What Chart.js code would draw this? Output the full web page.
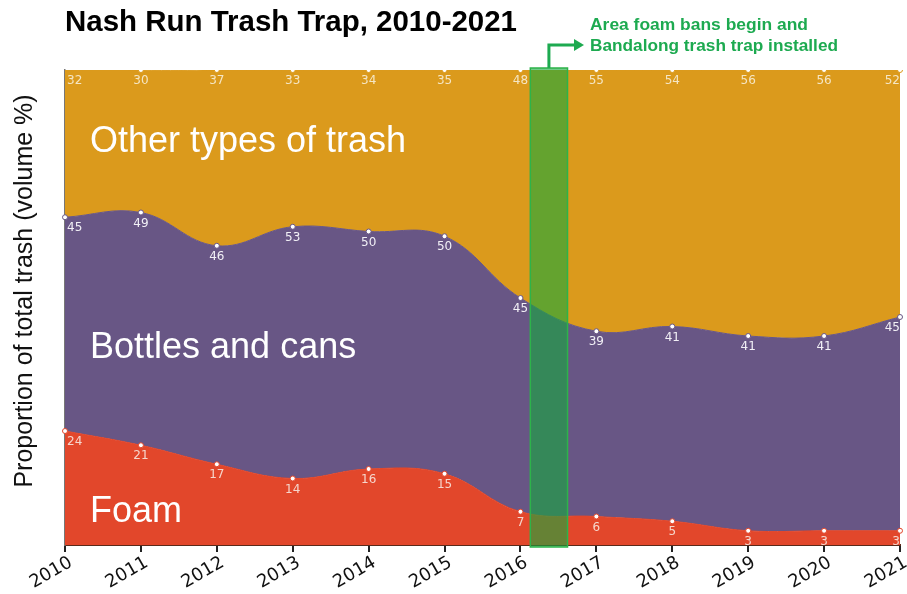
<!DOCTYPE html>
<html>
<head>
<meta charset="utf-8">
<script src="https://cdn.jsdelivr.net/npm/chart.js@4.4.1/dist/chart.umd.min.js"></script>
<style>
  html, body { margin: 0; padding: 0; background: #fff; }
  #wrap { width: 907px; height: 594px; }
</style>
</head>
<body>
<div id="wrap"><canvas id="trash"></canvas></div>
<script>
var years = ['2010', '2011', '2012', '2013', '2014', '2015', '2016', '2017', '2018', '2019', '2020', '2021'];
var foam = [24, 21, 17, 14, 16, 15, 7, 6, 5, 3, 3, 3];
var bottles = [45, 49, 46, 53, 50, 50, 45, 39, 41, 41, 41, 45];
var other = [32, 30, 37, 33, 34, 35, 48, 55, 54, 56, 56, 52];

var colors = {
    foam: '#E2472B',
    bottles: '#685685',
    other: '#DB9A1C',
    green: '#1DAA50'
};

function area(label, values, color, fill, labelColor) {
    return {
        label: label,
        data: values,
        backgroundColor: color,
        borderColor: color,
        borderWidth: 1,
        fill: fill,
        tension: 0.4,
        pointRadius: 2.5,
        pointBackgroundColor: '#fff',
        pointBorderColor: color,
        pointBorderWidth: 1,
        labelColor: labelColor
    };
}

// narrow bold text: squeeze a normal face to the wanted width
function narrowText(ctx, text, x, y, width) {
    var w = ctx.measureText(text).width;
    ctx.save();
    ctx.translate(x, y);
    ctx.scale(width / w, 1);
    ctx.fillText(text, 0, 0);
    ctx.restore();
}

// value labels under every point
var valueLabels = {
    id: 'valueLabels',
    afterDatasetsDraw: function(chart) {
        var ctx = chart.ctx;
        ctx.save();
        ctx.font = '12px "DejaVu Sans"';
        ctx.textBaseline = 'top';
        chart.data.datasets.forEach(function(ds, i) {
            var meta = chart.getDatasetMeta(i);
            meta.data.forEach(function(pt, j) {
                ctx.fillStyle = ds.labelColor;
                ctx.textAlign = j === 0 ? 'left' : (j === ds.data.length - 1 ? 'right' : 'center');
                var y = Math.max(pt.y, chart.chartArea.top);
                ctx.fillText(String(ds.data[j]), pt.x + (j === 0 ? 2 : 0), y + 5);
            });
        });
        ctx.restore();
    }
};

// big category names, titles, and the 2016 highlight box
var decorations = {
    id: 'decorations',
    afterDraw: function(chart) {
        var ctx = chart.ctx;
        var area = chart.chartArea;
        var x = chart.scales.x;
        ctx.save();

        ctx.fillStyle = '#fff';
        ctx.textAlign = 'left';
        ctx.textBaseline = 'alphabetic';
        ctx.font = '36px "Liberation Sans"';
        ctx.fillText('Other types of trash', 90, 152);
        ctx.fillText('Bottles and cans', 90, 358);
        ctx.fillText('Foam', 90, 522);

        ctx.fillStyle = '#000';
        ctx.font = 'bold 30px "Liberation Sans"';
        narrowText(ctx, 'Nash Run Trash Trap, 2010-2021', 65, 31, 452);

        // y axis title
        ctx.save();
        ctx.translate(25, 291);
        ctx.rotate(-Math.PI / 2);
        ctx.textAlign = 'center';
        ctx.textBaseline = 'middle';
        ctx.fillStyle = '#111';
        ctx.font = '25px "Liberation Sans"';
        ctx.fillText('Proportion of total trash (volume %)', 0, 0);
        ctx.restore();

        var x0 = x.getPixelForValue(6.13);
        var x1 = x.getPixelForValue(6.62);
        ctx.fillStyle = 'rgba(20, 170, 60, 0.6)';
        ctx.fillRect(x0, area.top - 2, x1 - x0, area.bottom - area.top + 4);
        ctx.strokeStyle = '#2DB34A';
        ctx.lineWidth = 1.5;
        ctx.strokeRect(x0, area.top - 2, x1 - x0, area.bottom - area.top + 4);

        var mx = (x0 + x1) / 2;
        ctx.strokeStyle = colors.green;
        ctx.lineWidth = 3;
        ctx.beginPath();
        ctx.moveTo(mx, area.top - 2);
        ctx.lineTo(mx, 45);
        ctx.lineTo(576, 45);
        ctx.stroke();
        ctx.fillStyle = colors.green;
        ctx.beginPath();
        ctx.moveTo(574, 39);
        ctx.lineTo(584, 45);
        ctx.lineTo(574, 51);
        ctx.closePath();
        ctx.fill();

        ctx.font = 'bold 17px "Liberation Sans"';
        narrowText(ctx, 'Area foam bans begin and', 590, 30, 218);
        narrowText(ctx, 'Bandalong trash trap installed', 590, 51, 248);
        ctx.restore();
    }
};

var ctx = document.getElementById('trash').getContext('2d');
var myChart = new Chart(ctx, {
    type: 'line',
    data: {
        labels: years,
        datasets: [
            area('Foam', foam, colors.foam, 'origin', '#F6D6CC'),
            area('Bottles and cans', bottles, colors.bottles, '-1', '#F2F0F6'),
            area('Other types of trash', other, colors.other, '-1', '#F5E6C4')
        ]
    },
    options: {
        responsive: true,
        maintainAspectRatio: false,
        animation: false,
        layout: { padding: { top: 70, right: 7, left: 0, bottom: 0 } },
        plugins: {
            legend: { display: false },
            tooltip: { enabled: false }
        },
        scales: {
            x: {
                offset: false,
                grid: { drawOnChartArea: false, drawTicks: true, tickLength: 7, color: '#222', lineWidth: 2 },
                border: { color: '#5a2a1a', width: 2 },
                ticks: {
                    color: '#111',
                    font: { family: 'DejaVu Sans', size: 18 },
                    minRotation: 30,
                    maxRotation: 30,
                    labelOffset: 6,
                    padding: 0
                },
                afterFit: function(scale) {
                    scale.height = 49;
                    scale.paddingRight = 0;
                }
            },
            y: {
                stacked: true,
                min: 0,
                max: 100,
                grid: { drawOnChartArea: false, drawTicks: false },
                border: { color: '#777', width: 1.5 },
                ticks: { display: false },
                afterFit: function(scale) { scale.width = 65; }
            }
        }
    },
    plugins: [valueLabels, decorations]
});
</script>
</body>
</html>
